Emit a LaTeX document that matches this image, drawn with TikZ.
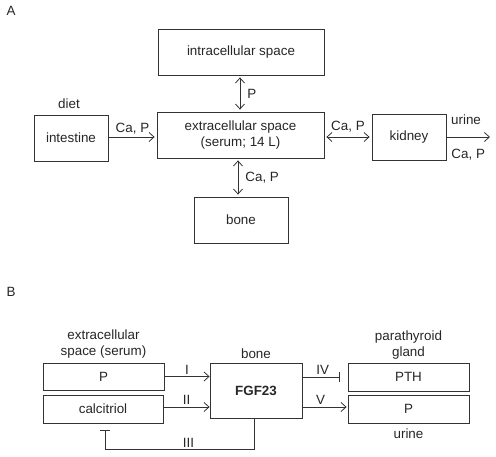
\documentclass[tikz,border=0pt]{standalone}
\usepackage{fontspec}
\setmainfont{Liberation Sans}
\usetikzlibrary{arrows.meta}

\begin{document}
\begin{tikzpicture}[
	x = 1pt, y = -1pt,
	line width = 0.8pt, draw = black!80,
	every node/.style = {font=\fontsize{13.4}{15.5}\selectfont, text=black!85},
	box/.style = {draw, rectangle, inner sep=0pt, align=center},
	flow/.style = {-{Straight Barb[length=5pt, width=9pt]}},
	both/.style = {{Straight Barb[length=5pt, width=9pt]}-{Straight Barb[length=5pt, width=9pt]}, shorten <=2pt, shorten >=2pt},
	inhib/.style = {-{Bar[width=10pt]}},
	lbl/.style = {inner sep=1pt}
	]

	\useasboundingbox (0,0) rectangle (496,456);

	% panel A
	\node[lbl] (tagA) at (11,11) {A};
	\node[box, minimum width=166pt, minimum height=46pt] (intra) at (241,52) {intracellular space};
	\node[box, minimum width=167pt, minimum height=46pt] (extra) at (240.5,135) {extracellular space\\(serum; 14 L)};
	\node[box, minimum width=74pt, minimum height=46pt] (intestine) at (71,138) {intestine};
	\node[box, minimum width=74pt, minimum height=46pt] (kidney) at (409,137) {kidney};
	\node[box, minimum width=94pt, minimum height=46pt] (bone) at (241,220) {bone};
	\node[lbl] (diet) at (69,104) {diet};
	\coordinate (out) at (490,137);

	\draw[flow, shorten >=2pt] (intestine.east |- 0,137) -- node[lbl, above=1pt] {Ca, P} (extra.west |- 0,137);
	\draw[both] (intra.south -| 240,0) -- node[lbl, right=6pt] {P} (extra.north -| 240,0);
	\draw[both] (extra.east |- 0,137) -- node[lbl, above=3pt] {Ca, P} (kidney.west |- 0,137);
	\draw[both] (extra.south -| 238,0) -- node[lbl, right=6pt] {Ca, P} (bone.north -| 238,0);
	\draw[flow] (kidney.east |- out) -- node[lbl, above=11pt, pos=0.45] {urine} node[lbl, below=11pt, pos=0.5] {Ca, P} (out);

	% panel B
	\node[lbl] (tagB) at (11,292) {B};
	\node[box, minimum width=121pt, minimum height=27pt] (serP) at (103.5,376.5) {P};
	\node[box, minimum width=120pt, minimum height=28pt] (calc) at (103,409) {calcitriol};
	\node[box, minimum width=92pt, minimum height=55pt, font=\fontsize{13.4}{15.5}\selectfont\bfseries] (fgf) at (256,390.5) {FGF23};
	\node[box, minimum width=121pt, minimum height=28pt] (pth) at (408.5,377) {PTH};
	\node[box, minimum width=121pt, minimum height=28pt] (urP) at (408.5,409) {P};
	\node[lbl, align=center, above=3pt] at (serP.north) {extracellular\\space (serum)};
	\node[lbl, above=3pt] at (fgf.north) {bone};
	\node[lbl, align=center, above=2pt] at (pth.north) {parathyroid\\gland};
	\node[lbl, below=4pt] at (urP.south) {urine};

	\draw[flow] (serP.east) -- node[lbl, above=1pt] {I} (serP.east -| fgf.west);
	\draw[flow] (calc.east |- 0,407) -- node[lbl, above=1pt] {II} (fgf.west |- 0,407);
	\draw[inhib, shorten >=8pt] (fgf.east |- pth) -- node[lbl, above=1pt, pos=0.45] {IV} (pth.west);
	\draw[flow, shorten >=1pt] (fgf.east |- 0,407) -- node[lbl, above=1pt, pos=0.4] {V} (urP.west |- 0,407);
	\draw[inhib] (fgf.south -| 254,0) |- node[lbl, above=1pt, pos=0.72] {III} ([xshift=2pt, yshift=-26pt]calc.south) -- ([xshift=2pt, yshift=-7pt]calc.south);
\end{tikzpicture}
\end{document}
